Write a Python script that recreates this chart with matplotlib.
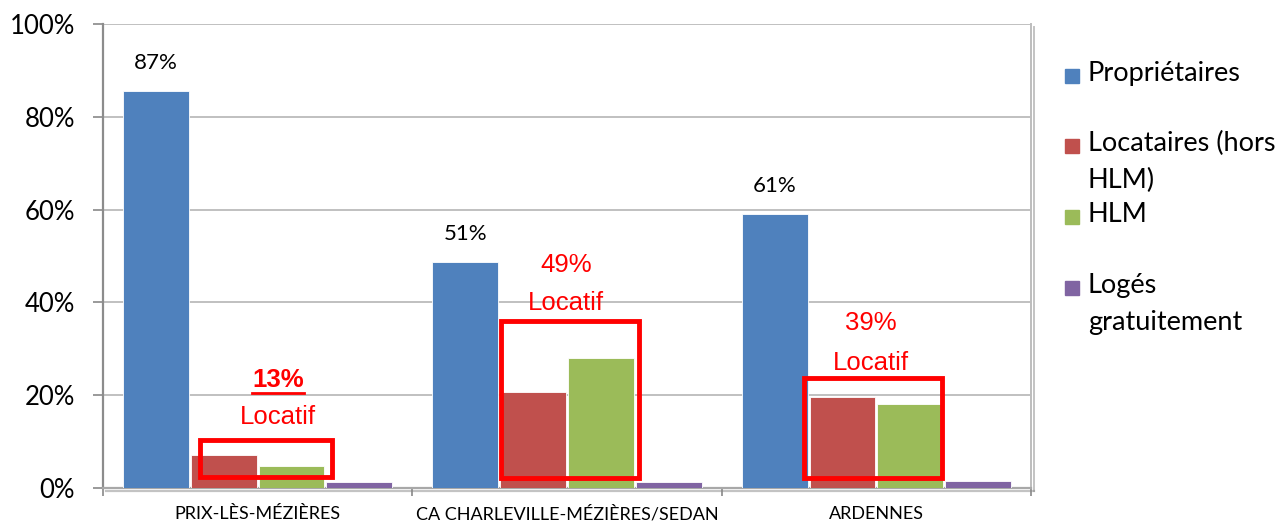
import matplotlib.pyplot as plt
import matplotlib.patheffects as pe
from matplotlib.patches import Rectangle
from matplotlib.lines import Line2D
from matplotlib.ticker import PercentFormatter, FixedLocator
import numpy as np

categories = ['PRIX-LÈS-MÉZIÈRES', 'CA CHARLEVILLE-MÉZIÈRES/SEDAN', 'ARDENNES']
series = ['Propriétaires', 'Locataires (hors\nHLM)', 'HLM', 'Logés\ngratuitement']
proprietaires = [85.6, 48.8, 59.1]
locataires = [7.1, 20.6, 19.7]
hlm = [4.7, 28.0, 18.1]
loges = [1.2, 1.2, 1.5]
prop_labels = ['87%', '51%', '61%']
locatif_labels = ['13%', '49%', '39%']

colors = ['#4F81BD', '#C0504D', '#9BBB59', '#8064A2']
values = [proprietaires, locataires, hlm, loges]

fig = plt.figure(figsize=(12.79, 5.27), dpi=100)
ax = fig.add_axes([103/1279, 39/527, 928/1279, 464/527])

x = np.arange(len(categories))
step = 0.219
width = 0.213
for i, (vals, col) in enumerate(zip(values, colors)):
	ax.bar(x + (i - 1.5) * step, vals, width, color=col, edgecolor='white', linewidth=0.6, zorder=3)

ax.set_xlim(-0.5, 2.5)
ax.set_ylim(0, 100)
ax.yaxis.set_major_formatter(PercentFormatter(xmax=100, decimals=0))
ax.set_yticks([0, 20, 40, 60, 80, 100])
ax.grid(axis='y', color='#C0C0C0', linewidth=1.4, zorder=0)
ax.tick_params(axis='y', length=7, width=1.4, color='#9A9A9A', pad=13, labelsize=18.5)
for lab in ax.get_yticklabels():
	lab.set_family('Lato')

ax.set_xticks(x)
ax.set_xticklabels(categories, fontsize=13, family='Lato')
ax.tick_params(axis='x', which='major', length=0, pad=13)
ax.xaxis.set_minor_locator(FixedLocator([-0.5, 0.5, 1.5, 2.5]))
ax.tick_params(axis='x', which='minor', length=6, width=1.4, color='#9A9A9A', direction='out')

shadow = [pe.SimpleLineShadow(offset=(2, -2), shadow_color='#888888', alpha=0.5), pe.Normal()]
ax.spines['top'].set_visible(False)
ax.spines['left'].set_color('#8C8C8C')
ax.spines['left'].set_linewidth(1.6)
ax.spines['bottom'].set_color('#A8A8A8')
ax.spines['bottom'].set_linewidth(1.6)
ax.spines['bottom'].set_path_effects(shadow)
ax.spines['right'].set_color('#BDBDBD')
ax.spines['right'].set_linewidth(1.4)
ax.spines['right'].set_path_effects(shadow)

# value labels over the owner bars
for xi, v, lab in zip(x, proprietaires, prop_labels):
	ax.text(xi - 1.5 * step, v + 6, lab, ha='center', va='center', fontsize=16, family='Lato')

# red "Locatif" annotations and boxes
red = '#FF0000'
text_x = [0.066, 0.997, 1.983]
pct_y = [23.3, 48.1, 35.6]
loc_y = [15.3, 39.9, 26.9]
boxes = [(-0.186, 2.4, 0.240, 10.3), (0.787, 2.2, 1.233, 36.0), (1.766, 2.2, 2.212, 23.7)]
pct_texts = []
for i in range(3):
	t = ax.text(text_x[i], pct_y[i], locatif_labels[i], ha='center', va='center', color=red,
				fontsize=18.5, family='Liberation Sans', fontweight='bold' if i == 0 else 'normal', zorder=5)
	pct_texts.append(t)
	ax.text(text_x[i], loc_y[i], 'Locatif', ha='center', va='center', color=red,
			fontsize=18.5, family='Liberation Sans', zorder=5)
	x0, y0, x1, y1 = boxes[i]
	ax.add_patch(Rectangle((x0, y0), x1 - x0, y1 - y0, fill=False, edgecolor=red, linewidth=3.5, zorder=6))

# underline the first percentage
fig.canvas.draw()
bb = pct_texts[0].get_window_extent()
inv = fig.transFigure.inverted()
(ux0, uy), (ux1, _) = inv.transform([(bb.x0, bb.y0 - 1), (bb.x1, bb.y0 - 1)])
fig.add_artist(Line2D([ux0, ux1], [uy, uy], color=red, linewidth=2))

# legend drawn by hand (entries start at the first line)
leg_y = [76, 146, 217, 288]
for name, col, py in zip(series, colors, leg_y):
	fig.patches.append(Rectangle((1065/1279, 1 - (py + 7)/527), 14/1279, 14/527, color=col,
								 transform=fig.transFigure, figure=fig))
	fig.text(1088/1279, 1 - (py - 15)/527, name, ha='left', va='top', fontsize=19.5,
			 family='Lato', linespacing=1.6)

fig.savefig('out.png', dpi=100)
